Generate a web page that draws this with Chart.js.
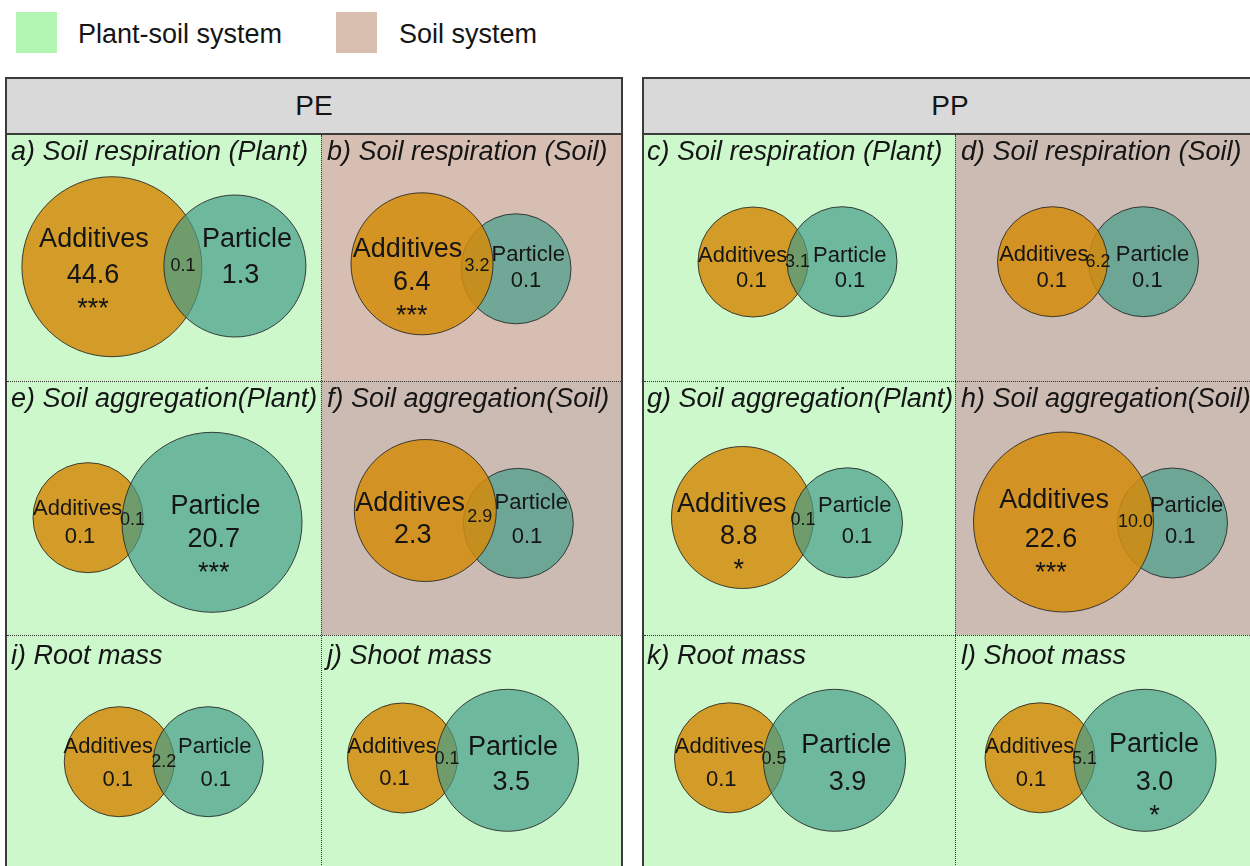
<!DOCTYPE html>
<html>
<head>
<meta charset="utf-8">
<title>Variance partitioning – PE / PP</title>
<script src="https://cdn.jsdelivr.net/npm/chart.js@4.4.1/dist/chart.umd.min.js"></script>
<style>
html,body{margin:0;padding:0;}
body{width:1250px;height:866px;overflow:hidden;background:#ffffff;position:relative;
  font-family:"Liberation Sans",Arial,Helvetica,sans-serif;color:#151515;}
.sw{position:absolute;width:41px;height:41px;}
.lt{position:absolute;font-size:27px;line-height:27px;white-space:nowrap;}
.cell{position:absolute;}
.cv{position:absolute;z-index:2;}
.title{position:absolute;font-style:italic;font-size:27px;line-height:27px;white-space:nowrap;z-index:3;}
.box{position:absolute;top:77px;height:820px;border:2px solid #3b3b3b;box-sizing:border-box;z-index:6;pointer-events:none;}
.hdr{position:absolute;top:77px;height:58px;background:#d9d9d9;border:2px solid #3b3b3b;box-sizing:border-box;
  display:flex;align-items:center;justify-content:center;font-size:28px;z-index:7;}
.vl{position:absolute;width:0;border-left:1px dotted #333;z-index:5;}
.hl{position:absolute;height:0;border-top:1px dotted #333;z-index:5;}
</style>
</head>
<body>
<script>
// ---------------- DATA ----------------
const LEGEND_LABELS = ["Plant-soil system", "Soil system"];
const POLYMERS = ["PE", "PP"];
const SET_LABELS = ["Additives", "Particle"];
const PANEL_TITLES = [
  "a) Soil respiration (Plant)", "b) Soil respiration (Soil)", "c) Soil respiration (Plant)", "d) Soil respiration (Soil)",
  "e) Soil aggregation(Plant)", "f) Soil aggregation(Soil)", "g) Soil aggregation(Plant)", "h) Soil aggregation(Soil)",
  "i) Root mass", "j) Shoot mass", "k) Root mass", "l) Shoot mass"
];
const PANEL_POLYMER = ["PE","PE","PP","PP","PE","PE","PP","PP","PE","PE","PP","PP"];
const PANEL_SYSTEM = ["Plant-soil system","Soil system","Plant-soil system","Soil system",
                      "Plant-soil system","Soil system","Plant-soil system","Soil system",
                      "Plant-soil system","Plant-soil system","Plant-soil system","Plant-soil system"];
const ADDITIVES = [44.6, 6.4, 0.1, 0.1, 0.1, 2.3, 8.8, 22.6, 0.1, 0.1, 0.1, 0.1];
const PARTICLE  = [1.3, 0.1, 0.1, 0.1, 20.7, 0.1, 0.1, 0.1, 0.1, 3.5, 3.9, 3.0];
const SHARED    = [0.1, 3.2, 3.1, 6.2, 0.1, 2.9, 0.1, 10.0, 2.2, 0.1, 0.5, 5.1];
const ADDITIVES_SIG = ["***","***","","","","","*","***","","","",""];
const PARTICLE_SIG  = ["","","","","***","","","","","","","*"];

// ---------------- STYLE / LAYOUT ----------------
const LEGEND_COLORS = ["#b3f5b3", "#d8bfb0"];
const CELL_BG = ["#ccf8cc","#d6bfb2","#ccf8cc","#cbbbb3","#ccf8cc","#cbbbb3","#ccf8cc","#cbbbb3",
                 "#ccf8cc","#ccf8cc","#ccf8cc","#ccf8cc"];
const ADD_FILL = "rgba(212,140,10,0.85)";
const PART_FILL = "rgba(70,156,138,0.70)";
const EDGE = "rgba(35,35,35,0.85)";
const BOX = {PE:{x:5, w:618}, PP:{x:642, w:616}};
const SPLIT = {PE:321, PP:955};
const ROW_TOP = [135, 382, 635];
const ROW_H = [247, 253, 231];
const CANVAS_X = {PE:[6, 322], PP:[642, 956]};
const CANVAS_W = {PE:[316, 300], PP:[314, 300]};
// circle pair layout inside each panel (panel pixels)
const LAYOUT = [
 {px:157.9, cy:[131.7,131.0], ov:38, lab:[[-18,112],[12,112]],       num:[[-19,147.7],[5.5,147.7]]},
 {px:139.0, cy:[128.8,133.8], ov:32, lab:[[-14.5,122.3],[12.2,125.7]], num:[[-10.3,155],[10,151.7]]},
 {px:155.5, cy:[127.0,126.7], ov:21, lab:[[-10.3,126.7],[7.7,126.7]],  num:[[-1.6,152.3],[8,152.3]]},
 {px:142.0, cy:[126.7,126.7], ov:19, lab:[[-8.7,125.7],[9,125.7]],     num:[[-0.8,151.7],[3.9,151.7]]},
 {px:161.5, cy:[135.7,140.3], ov:21, lab:[[-10.3,133],[3.4,132]],      num:[[-8,160.7],[1.7,164.7]]},
 {px:141.8, cy:[128.5,141.3], ov:33, lab:[[-15.2,128.7],[13,127.3]],   num:[[-12.5,161.3],[8.7,160.7]]},
 {px:145.0, cy:[135.5,140.8], ov:21, lab:[[-10.8,129.7],[7.2,129.7]],  num:[[-3.7,162],[9.5,161.3]]},
 {px:144.5, cy:[140.0,141.0], ov:36, lab:[[-9.4,126.3],[14.1,129.7]],  num:[[-12.4,164.7],[7.8,160.7]]},
 {px:157.75,cy:[126.7,126.7], ov:21, lab:[[-11,118.3],[6.5,118.3]],    num:[[-1.5,150.7],[7.5,150.7]]},
 {px:141.0, cy:[123.0,125.3], ov:21, lab:[[-10.5,118.3],[5.4,120]],    num:[[-8,150],[3.7,155]]},
 {px:148.0, cy:[122.8,125.3], ov:21, lab:[[-10,118.3],[11.7,118.3]],   num:[[-8.3,150.7],[13,155]]},
 {px:144.5, cy:[122.8,125.3], ov:21, lab:[[-10.5,118.3],[9,116.7]],    num:[[-9,150.7],[9.5,155]]}
];
const FONT = '"Liberation Sans", Arial, Helvetica, sans-serif';

function radiusOf(v){ return v >= 15 ? 90 : (v >= 1 ? 71 : 55); }
function fontOf(v){ return v >= 1 ? 27 : 22; }

function el(tag, cls, css, text){
  const e = document.createElement(tag);
  if (cls) e.className = cls;
  Object.assign(e.style, css || {});
  if (text !== undefined) e.textContent = text;
  document.body.appendChild(e);
  return e;
}

// ---------------- LEGEND ----------------
const LEG_X = [16, 336], LEG_TX = [78, 399];
LEGEND_LABELS.forEach((t, i) => {
  el("div", "sw", {left: LEG_X[i] + "px", top: "12px", background: LEGEND_COLORS[i]});
  el("div", "lt", {left: LEG_TX[i] + "px", top: "21px"}, t);
});

// ---------------- BOXES / HEADERS ----------------
POLYMERS.forEach(pol => {
  const b = BOX[pol];
  el("div", "box", {left: b.x + "px", width: b.w + "px"});
  el("div", "hdr", {left: b.x + "px", width: b.w + "px"}, pol);
  el("div", "vl", {left: SPLIT[pol] + "px", top: "135px", height: "740px"});
  [381, 635].forEach(y => el("div", "hl", {left: (b.x + 2) + "px", top: y + "px", width: (b.w - 4) + "px"}));
});

// ---------------- LABEL PLUGIN ----------------
const vennLabels = {
  id: "vennLabels",
  afterDatasetsDraw(chart, args, opts) {
    const p = opts.panel, L = LAYOUT[p];
    const ctx = chart.ctx, ys = chart.scales.y;
    const eA = chart.getDatasetMeta(0).data[0], eP = chart.getDatasetMeta(1).data[0];
    const vals = [ADDITIVES[p], PARTICLE[p]], sigs = [ADDITIVES_SIG[p], PARTICLE_SIG[p]];
    const els = [eA, eP];
    ctx.save();
    ctx.fillStyle = "#151515";
    ctx.textAlign = "center";
    ctx.textBaseline = "alphabetic";
    for (let k = 0; k < 2; k++) {
      const fs = fontOf(vals[k]);
      ctx.font = fs + "px " + FONT;
      ctx.fillText(SET_LABELS[k], els[k].x + L.lab[k][0], ys.getPixelForValue(L.lab[k][1]));
      const nx = els[k].x + L.num[k][0], ny = ys.getPixelForValue(L.num[k][1]);
      ctx.fillText(vals[k].toFixed(1), nx, ny);
      if (sigs[k]) {
        ctx.font = "27px " + FONT;
        ctx.fillText(sigs[k], nx, ny + 34);
      }
    }
    // shared fraction in the lens
    const rA = eA.options.radius, rP = eP.options.radius;
    const lx = ((eP.x - rP) + (eA.x + rA)) / 2;
    const ly = (eA.y + eP.y) / 2;
    ctx.font = "18px " + FONT;
    ctx.textBaseline = "middle";
    ctx.fillText(SHARED[p].toFixed(1), lx, ly);
    ctx.restore();
  }
};

// ---------------- PANELS ----------------
for (let p = 0; p < 12; p++) {
  const pol = PANEL_POLYMER[p];
  const row = Math.floor(p / 4), col = p % 2;
  const b = BOX[pol];
  const bgLeft = col === 0 ? b.x + 2 : SPLIT[pol];
  const bgRight = col === 0 ? SPLIT[pol] : b.x + b.w - 2;
  const top = ROW_TOP[row], h = ROW_H[row];
  el("div", "cell", {left: bgLeft + "px", top: (row === 0 ? 135 : (row === 1 ? 381 : 635)) + "px",
     width: (bgRight - bgLeft) + "px", height: (row === 0 ? 246 : (row === 1 ? 254 : 231)) + "px",
     background: CELL_BG[p]});
  const cx0 = CANVAS_X[pol][col], w = CANVAS_W[pol][col];
  el("div", "title", {left: (cx0 + 5) + "px", top: (top + (row === 2 ? 7 : 3)) + "px"}, PANEL_TITLES[p]);
  const cv = el("canvas", "cv", {left: cx0 + "px", top: top + "px", width: w + "px", height: h + "px"});
  cv.width = w; cv.height = h;

  const L = LAYOUT[p];
  const rA = radiusOf(ADDITIVES[p]), rP = radiusOf(PARTICLE[p]);
  const W = 2 * rA + 2 * rP - L.ov;
  const xA = L.px - W / 2 + rA, xP = L.px + W / 2 - rP;
  const soil = PANEL_SYSTEM[p] === LEGEND_LABELS[1];

  new Chart(cv, {
    type: "bubble",
    data: {
      datasets: [
        {label: SET_LABELS[0], data: [{x: xA, y: L.cy[0], r: rA}], backgroundColor: ADD_FILL,
         borderColor: EDGE, borderWidth: 1, order: soil ? 0 : 1, clip: false},
        {label: SET_LABELS[1], data: [{x: xP, y: L.cy[1], r: rP}], backgroundColor: PART_FILL,
         borderColor: EDGE, borderWidth: 1, order: soil ? 1 : 0, clip: false}
      ]
    },
    options: {
      responsive: false, animation: false, events: [],
      layout: {padding: 0, autoPadding: false},
      plugins: {legend: {display: false}, tooltip: {enabled: false}, title: {display: false},
                vennLabels: {panel: p}},
      scales: {
        x: {type: "linear", min: 0, max: w, display: false},
        y: {type: "linear", min: 0, max: h, reverse: true, display: false}
      }
    },
    plugins: [vennLabels]
  });
}
</script>
</body>
</html>
